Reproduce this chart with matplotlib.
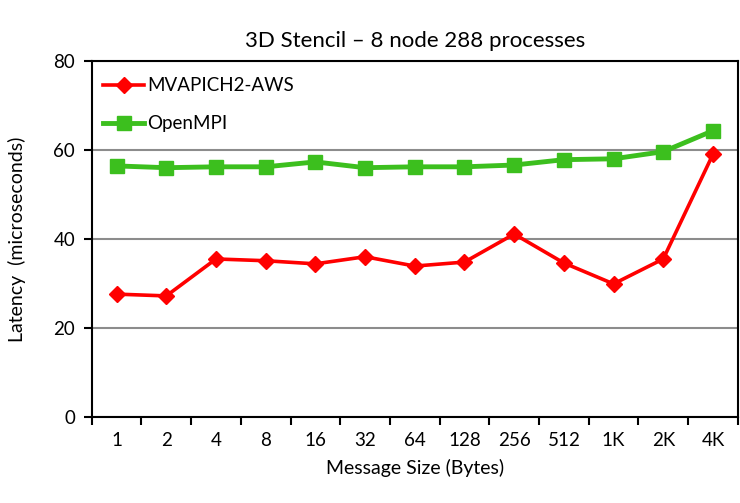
import numpy as np
import matplotlib
matplotlib.use("Agg")
import matplotlib.pyplot as plt

plt.rcParams['font.family'] = ['Lato', 'DejaVu Sans']

# ------------------ Data ------------------

sizes = ["1", "2", "4", "8", "16", "32", "64", "128", "256", "512", "1K", "2K", "4K"]
mvapich = [27.6, 27.2, 35.5, 35.1, 34.4, 36.0, 33.9, 34.8, 41.1, 34.6, 29.9, 35.5, 59.0]
openmpi = [56.4, 56.0, 56.2, 56.2, 57.3, 56.0, 56.2, 56.2, 56.6, 57.8, 58.0, 59.6, 64.3]

# ------------------ Plot ------------------

fig = plt.figure(figsize=(7.4, 5.03), dpi=100)
ax = fig.add_axes([0.124, 0.171, 0.873, 0.708])

x = np.arange(len(sizes))
ax.plot(x, mvapich, color="#ff0000", lw=2.6, marker="D", ms=8,
        label="MVAPICH2-AWS", zorder=4)
ax.plot(x, openmpi, color="#3cbf1e", lw=3.5, marker="s", ms=10.5,
        label="OpenMPI", zorder=3)

ax.set_xlim(-0.5, len(sizes) - 0.5)
ax.set_ylim(0, 80)
ax.set_yticks([0, 20, 40, 60, 80])
ax.grid(axis="y", color="#8c8c8c", lw=1.5)
ax.set_axisbelow(True)

ax.set_xticks(x)
ax.set_xticklabels(sizes)
ax.set_xticks(np.arange(-0.5, len(sizes)), minor=True)
ax.tick_params(axis="x", which="major", length=0, pad=11, labelsize=13.5)
ax.tick_params(axis="x", which="minor", length=6, width=1.5, direction="out")
ax.tick_params(axis="y", length=6, width=1.5, labelsize=13.5, pad=6)

for s in ax.spines.values():
    s.set_linewidth(1.5)
    s.set_color("black")

ax.set_title("3D Stencil \u2013 8 node 288 processes", fontsize=16, pad=10)
ax.set_xlabel("Message Size (Bytes)", fontsize=14, labelpad=7)
ax.set_ylabel("Latency  (microseconds)", fontsize=14, labelpad=20)

ax.legend(loc="upper left", frameon=False, fontsize=13.5, handlelength=2.2,
          handletextpad=0.15, borderaxespad=0.2, labelspacing=1.1,
          bbox_to_anchor=(0.0, 0.985))

fig.savefig("out.png", dpi=100)
